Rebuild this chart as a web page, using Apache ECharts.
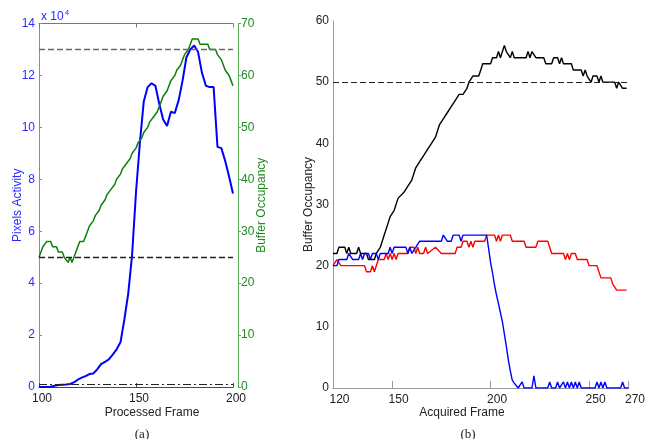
<!DOCTYPE html>
<html><head><meta charset="utf-8">
<script src="https://cdn.jsdelivr.net/npm/echarts@6/dist/echarts.min.js"></script>
<style>html,body{margin:0;padding:0;background:#fff}#c{width:648px;height:439px}</style>
</head><body><div id="c"></div>
<script>
// ---------- Panel (a) ----------
const pixelFrames = [100,104,106,108,110,112,114,116,118,120,122,124,126,128,130,132,134,136,138,140,142,144,146,148,150,152,154,156,158,160,162,164,166,168,170,172,174,176,178,180,182,184,186,188,190,191,192,194,196,198,200];
const pixelActivity = [0,0,100,500,800,900,1000,1200,1800,2800,3600,4200,5000,5200,6800,8800,9700,10600,12500,14500,17200,26000,36000,51000,75000,94000,110000,115500,117000,116000,109000,103000,100500,106000,105500,110500,118000,127000,130000,131500,129000,121000,116000,115500,115500,115000,92500,92000,87000,81000,74500];
const occFramesA = [100,101,102,103,104,106,107,109,110,112,113,114,115,116,117,118,119,120,121,123,124,125,126,127,128,129,130,131,132,133,134,135,136,137,138,139,140,141,142,143,144,145,146,147,148,149,150,151,152,153,154,155,156,157,158,159,160,161,162,163,164,165,166,167,168,169,170,171,172,173,174,175,176,177,178,179,180,182,183,187,188,191,192,193,194,195,196,197,198,199,200];
const bufferOccA = [25,25,27,27,28,28,27,27,26,26,25,25,24,25,24,25,26,27,28,28,29,30,31,31,32,33,33,34,35,35,36,37,37,38,38,39,40,40,41,42,42,43,43,44,45,45,46,47,47,48,49,49,50,51,51,52,52,53,54,55,56,56,57,58,59,59,60,61,61,62,63,64,64,65,66,67,67,67,66,66,65,65,64,64,63,62,61,61,60,59,58];
const thresholdsA = [65, 25];      // buffer occupancy reference levels
const pixelThreshold = 1000;       // pixel activity reference level

// ---------- Panel (b) ----------
const blackFrames = [120,122,123,126,127,128,129,132,133,134,137,138,141,142,143,144,145,146,147,148,149,150,151,152,153,154,156,158,160,162,164,166,168,170,172,174,176,178,180,182,184,186,188,189,190,191,194,195,196,200,201,203,204,205,206,207,208,209,210,211,212,218,219,220,221,222,223,227,228,231,232,234,235,236,237,241,242,246,247,248,249,250,251,252,254,255,256,257,263,264,265,266,267,269];
const blackOcc    = [22,22,23,23,22,23,22,22,23,22,22,21,21,22,22,23,24,25,26,27,28,28,29,30,31,31,32,33,34,36,37,38,39,40,41,43,44,45,46,47,48,48,49,50,50,51,51,52,53,53,54,54,55,54,55,56,55,55,54,55,54,54,55,54,55,55,54,54,53,53,54,54,53,54,53,53,52,52,51,52,51,51,50,51,51,50,51,50,50,49,50,50,49,49];
const redFrames = [120,121,122,123,124,136,137,139,140,141,142,143,146,147,148,149,150,151,152,153,158,159,161,162,163,164,166,167,168,169,172,173,175,176,182,183,185,186,188,189,190,191,192,194,197,198,202,203,204,205,206,210,211,217,218,223,224,229,230,231,237,238,239,240,241,243,244,246,249,250,254,255,256,261,262,263,264,269];
const redOcc    = [20,20,21,21,20,20,19,19,20,19,20,21,21,22,21,22,21,22,21,22,22,23,23,22,23,22,22,23,22,22,23,23,22,22,22,23,23,24,24,23,24,23,24,24,24,25,25,24,25,24,25,25,24,24,23,23,24,24,23,22,22,21,22,21,22,22,21,21,21,20,20,19,18,18,17,17,16,16];
const blueFrames = [120,122,123,127,128,129,130,133,134,135,136,138,139,140,142,143,144,148,149,150,151,157,158,159,160,161,162,163,164,175,176,177,178,180,181,184,185,186,198,199,200,201,202,203,204,205,206,207,208,209,210,211,212,213,214,215,216,217,221,222,223,229,230,231,233,234,235,236,237,238,239,240,241,242,243,244,245,246,253,254,255,256,257,258,259,266,267,268,270];
const blueOcc    = [20,20,21,21,22,22,21,21,22,21,22,22,21,22,22,21,22,22,23,22,23,23,22,23,22,22,23,23,24,24,25,25,24,24,25,25,24,25,25,22.8,20.5,18.8,16.8,15.2,13.8,12.3,10.8,8.8,6.8,4.6,2.8,1.3,0.8,0.4,0,0,1,0,0,2,0,0,1,0,0,1,0,0,1,0,1,0,1,0,1,0,1,0,0,1,0,1,0,1,0,0,1,0,0];
const thresholdB = 50;
const labelTicksB = [120,150,200,250,270];
const markTicksB = [150,200,250,270];

const chart = echarts.init(document.getElementById('c'));
const pairs = (xs, ys) => xs.map((x, i) => [x, ys[i]]);
const SANS = '"Liberation Sans", Arial, sans-serif';
const SERIF = '"Liberation Serif", "Times New Roman", serif';
const BLUE_TXT = '#2b2bff', GREEN_TXT = '#1f8a1f';

const option = {
  animation: false,
  backgroundColor: '#fff',
  title: [
    { text: '{a|x 10}{b|4}', left: 36, top: 4,
      textStyle: { rich: { a: { fontSize: 12, fontWeight: 'normal', color: BLUE_TXT, fontFamily: SANS },
                           b: { fontSize: 8, fontWeight: 'normal', color: BLUE_TXT, fontFamily: SANS, verticalAlign: 'top', padding: [0,0,8,1] } } } },
    { text: 'Processed Frame', left: 147, top: 402, textAlign: 'center',
      textStyle: { fontSize: 12, fontWeight: 'normal', color: '#222', fontFamily: SANS } },
    { text: 'Acquired Frame', left: 457, top: 402, textAlign: 'center',
      textStyle: { fontSize: 12, fontWeight: 'normal', color: '#222', fontFamily: SANS } },
    { text: '(a)', left: 137, top: 423, textAlign: 'center',
      textStyle: { fontSize: 13, fontWeight: 'normal', color: '#222', fontFamily: SERIF } },
    { text: '(b)', left: 463, top: 423, textAlign: 'center',
      textStyle: { fontSize: 13, fontWeight: 'normal', color: '#222', fontFamily: SERIF } }
  ],
  grid: [
    { left: 39, right: 415, top: 23.5, bottom: 52 },
    { left: 333, right: 16, top: 21, bottom: 51 }
  ],
  xAxis: [
    { gridIndex: 0, type: 'value', min: 100, max: 200, interval: 50,
      axisLine: { onZero: false, lineStyle: { color: '#3b3b9b', width: 1 } },
      axisTick: { inside: true, length: 4, lineStyle: { color: '#444' } },
      axisLabel: { color: '#222', fontSize: 12, fontFamily: SANS, margin: 6, padding: [0,0,0,6] },
      splitLine: { show: false } },
    { gridIndex: 0, type: 'value', position: 'top', min: 100, max: 200, interval: 50,
      axisLine: { onZero: false, lineStyle: { color: '#777' } },
      axisTick: { inside: true, length: 4, lineStyle: { color: '#777' } },
      axisLabel: { show: false }, splitLine: { show: false } },
    { gridIndex: 1, type: 'value', min: 120, max: 270, interval: 10,
      axisLine: { onZero: false, lineStyle: { color: '#999' } },
      axisTick: { inside: true, length: 7, customValues: markTicksB, lineStyle: { color: '#999' } },
      axisLabel: { customValues: labelTicksB, color: '#222', fontSize: 12, fontFamily: SANS, margin: 6, padding: [0,0,0,13] },
      splitLine: { show: false } }
  ],
  yAxis: [
    { gridIndex: 0, type: 'value', min: 0, max: 140000, interval: 20000, position: 'left',
      name: 'Pixels Activity', nameLocation: 'middle', nameRotate: 90, nameGap: 15, nameMoveOverlap: false,
      nameTextStyle: { color: BLUE_TXT, fontSize: 12, fontFamily: SANS },
      axisLine: { show: true, onZero: false, lineStyle: { color: '#8080ff' } },
      axisTick: { show: true, inside: true, length: 3, lineStyle: { color: '#8080ff' } },
      axisLabel: { color: BLUE_TXT, fontSize: 12, fontFamily: SANS, margin: 4, formatter: v => String(v / 10000) },
      splitLine: { show: false } },
    { gridIndex: 0, type: 'value', min: 0, max: 70, interval: 10, position: 'right', offset: 5,
      name: 'Buffer Occupancy', nameLocation: 'middle', nameRotate: 90, nameGap: 18, nameMoveOverlap: false,
      nameTextStyle: { color: GREEN_TXT, fontSize: 12, fontFamily: SANS },
      axisLine: { show: true, onZero: false, lineStyle: { color: '#5aae5a' } },
      axisTick: { show: true, inside: false, length: 3, lineStyle: { color: '#5aae5a' } },
      axisLabel: { color: GREEN_TXT, fontSize: 12, fontFamily: SANS, margin: 3 },
      splitLine: { show: false } },
    { gridIndex: 1, type: 'value', min: 0, max: 60, interval: 10,
      name: 'Buffer Occupancy', nameLocation: 'middle', nameRotate: 90, nameGap: 18, nameMoveOverlap: false,
      nameTextStyle: { color: '#222', fontSize: 12, fontFamily: SANS },
      axisLine: { show: true, onZero: false, lineStyle: { color: '#999' } },
      axisTick: { show: false },
      axisLabel: { color: '#222', fontSize: 12, fontFamily: SANS, margin: 4 },
      splitLine: { show: false } }
  ],
  series: [
    { type: 'line', xAxisIndex: 0, yAxisIndex: 0, data: pairs(pixelFrames, pixelActivity),
      symbol: 'none', lineStyle: { color: '#0000ff', width: 2 }, z: 3,
      markLine: { silent: true, symbol: 'none', label: { show: false },
        lineStyle: { color: '#222', type: [8,3,2,3], width: 1 },
        data: [{ yAxis: pixelThreshold }] } },
    { type: 'line', xAxisIndex: 0, yAxisIndex: 1, data: pairs(occFramesA, bufferOccA),
      symbol: 'none', lineStyle: { color: '#0a800a', width: 1.5 }, z: 4,
      markLine: { silent: true, symbol: 'none', label: { show: false },
        data: [
          { yAxis: thresholdsA[0], lineStyle: { color: '#6a6a6a', type: [6,3], width: 1.3 } },
          { yAxis: thresholdsA[1], lineStyle: { color: '#222', type: [6,3], width: 1.3 } }
        ] } },
    { type: 'line', xAxisIndex: 2, yAxisIndex: 2, data: pairs(blackFrames, blackOcc),
      symbol: 'none', lineStyle: { color: '#000', width: 1.4 }, z: 3,
      markLine: { silent: true, symbol: 'none', label: { show: false },
        lineStyle: { color: '#222', type: [6,3], width: 1 },
        data: [{ yAxis: thresholdB }] } },
    { type: 'line', xAxisIndex: 2, yAxisIndex: 2, data: pairs(redFrames, redOcc),
      symbol: 'none', lineStyle: { color: '#ff0000', width: 1.4 }, z: 4 },
    { type: 'line', xAxisIndex: 2, yAxisIndex: 2, data: pairs(blueFrames, blueOcc),
      symbol: 'none', lineStyle: { color: '#0000ff', width: 1.4 }, z: 5 }
  ]
};
chart.setOption(option);
</script>
</body></html>
